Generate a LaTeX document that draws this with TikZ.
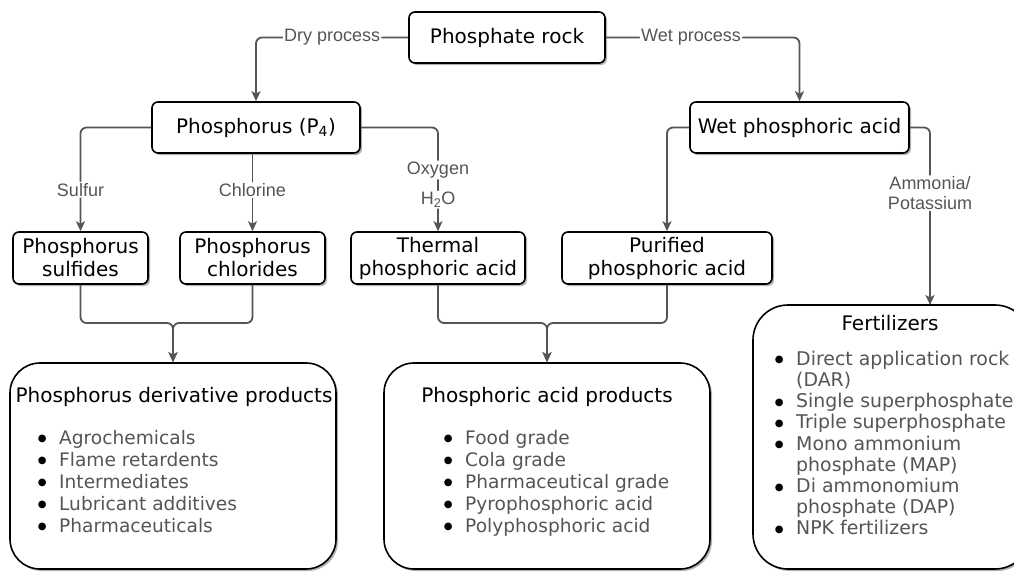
\documentclass[tikz,border=0pt]{standalone}
\usepackage{fontspec}
\setmainfont{DejaVu Sans}
\newfontfamily\lblfont{Liberation Sans}
\usetikzlibrary{arrows.meta,shadows}
\definecolor{conncol}{HTML}{555555}
\definecolor{itemgray}{HTML}{555555}
\newcommand\lbul{\makebox[22.3pt][l]{\hspace*{1pt}\textcolor{black}{\raisebox{2.4pt}{\fontsize{10}{0}\selectfont ●}}}}
\newcommand\lind{\hspace*{22.3pt}}
\begin{document}
\begin{tikzpicture}[x=1pt,y=-1pt,
  box/.style={draw=black, line width=1.6pt, rounded corners=6pt, fill=white, inner sep=0pt,
    align=center, font=\fontsize{20}{23}\selectfont,
    drop shadow={shadow xshift=2pt, shadow yshift=-2pt, opacity=0.3, fill=black}},
  bigbox/.style={box, rounded corners=30pt},
  conn/.style={draw=conncol, line width=1.8pt, rounded corners=6pt,
    -{Stealth[length=10pt,width=9pt,inset=2.5pt]}},
  lbl/.style={font=\lblfont\fontsize{18}{20}\selectfont, text=conncol, fill=white, inner sep=1.2pt, align=center},
  ttl/.style={font=\fontsize{20}{23}\selectfont, inner sep=0pt},
  lst/.style={font=\fontsize{18.6}{22}\selectfont, text=itemgray, inner sep=0pt, align=left, anchor=north west}
]
\clip (0,0) rectangle (1014,571);
\fill[white] (0,0) rectangle (1014,571);

% boxes
\node[box, minimum width=196pt, minimum height=51pt] (rock) at (507,37.5) {Phosphate rock};
\node[box, minimum width=208pt, minimum height=51pt] (p4) at (256,127.5) {Phosphorus (P\textsubscript{4})};
\node[box, minimum width=219pt, minimum height=51pt] (wet) at (799.5,127.5) {Wet phosphoric acid};
\node[box, minimum width=135pt, minimum height=52pt] (sulf) at (80.5,258) {Phosphorus\\sulfides};
\node[box, minimum width=145pt, minimum height=52pt] (chl) at (252.5,258) {Phosphorus\\chlorides};
\node[box, minimum width=174pt, minimum height=52pt] (therm) at (438,258) {Thermal\\phosphoric acid};
\node[box, minimum width=210pt, minimum height=52pt] (pur) at (667,258) {Purified\\phosphoric acid};

\node[bigbox, minimum width=326pt, minimum height=206pt] (deriv) at (173,466) {};
\node[bigbox, minimum width=326pt, minimum height=206pt] (acid) at (547,466) {};
\node[bigbox, rounded corners=35pt, minimum width=277pt, minimum height=264pt] (fert) at (891.5,437) {};

% contents of big boxes
\node[ttl] (t1) at (174,397) {Phosphorus derivative products};
\node[lst] (l1) at (36.7,428.6) {\strut\lbul Agrochemicals\\\lbul Flame retardents\\\lbul Intermediates\\\lbul Lubricant additives\\\lbul Pharmaceuticals};
\node[ttl] (t2) at (547,397) {Phosphoric acid products};
\node[lst] (l2) at (442.7,428.6) {\strut\lbul Food grade\\\lbul Cola grade\\\lbul Pharmaceutical grade\\\lbul Pyrophosphoric acid\\\lbul Polyphosphoric acid};
\node[ttl] (t3) at (890,323) {Fertilizers};
\node[lst, font=\fontsize{18.9}{21.2}\selectfont] (l3) at (773.7,350.2) {\strut\lbul Direct application rock\\\lind(DAR)\\\lbul Single superphosphate\\\lbul Triple superphosphate\\\lbul Mono ammonium\\\lind phosphate (MAP)\\\lbul Di ammonomium\\\lind phosphate (DAP)\\\lbul NPK fertilizers};

% helper coordinates
\coordinate (fin) at (930,305);
\coordinate (j1) at (173,323);
\coordinate (j2) at (547,323);

% connectors
\draw[conn] (rock.west) -| node[lbl, pos=0.25] {Dry process} (p4.north);
\draw[conn] (rock.east) -| node[lbl, pos=0.22] {Wet process} (wet.north);
\draw[conn] (p4.west) -| node[lbl, pos=0.8] {Sulfur} (sulf.north);
\draw[conn] (chl.north |- p4.south) -- node[lbl, pos=0.47] {Chlorine} (chl.north);
\draw[conn] (p4.east) -| node[lbl, pos=0.705] {Oxygen} node[lbl, pos=0.848] {H\textsubscript{2}O} (therm.north);
\draw[conn] (wet.west) -| (pur.north);
\draw[conn] (wet.east) -| node[lbl, pos=0.685] {Ammonia/\\Potassium} (fin);
\draw[conn] (sulf.south) |- (j1) -- (deriv.north);
\draw[conn] (chl.south) |- (j1) -- (deriv.north);
\draw[conn] (therm.south) |- (j2) -- (acid.north);
\draw[conn] (pur.south) |- (j2) -- (acid.north);
\end{tikzpicture}
\end{document}
